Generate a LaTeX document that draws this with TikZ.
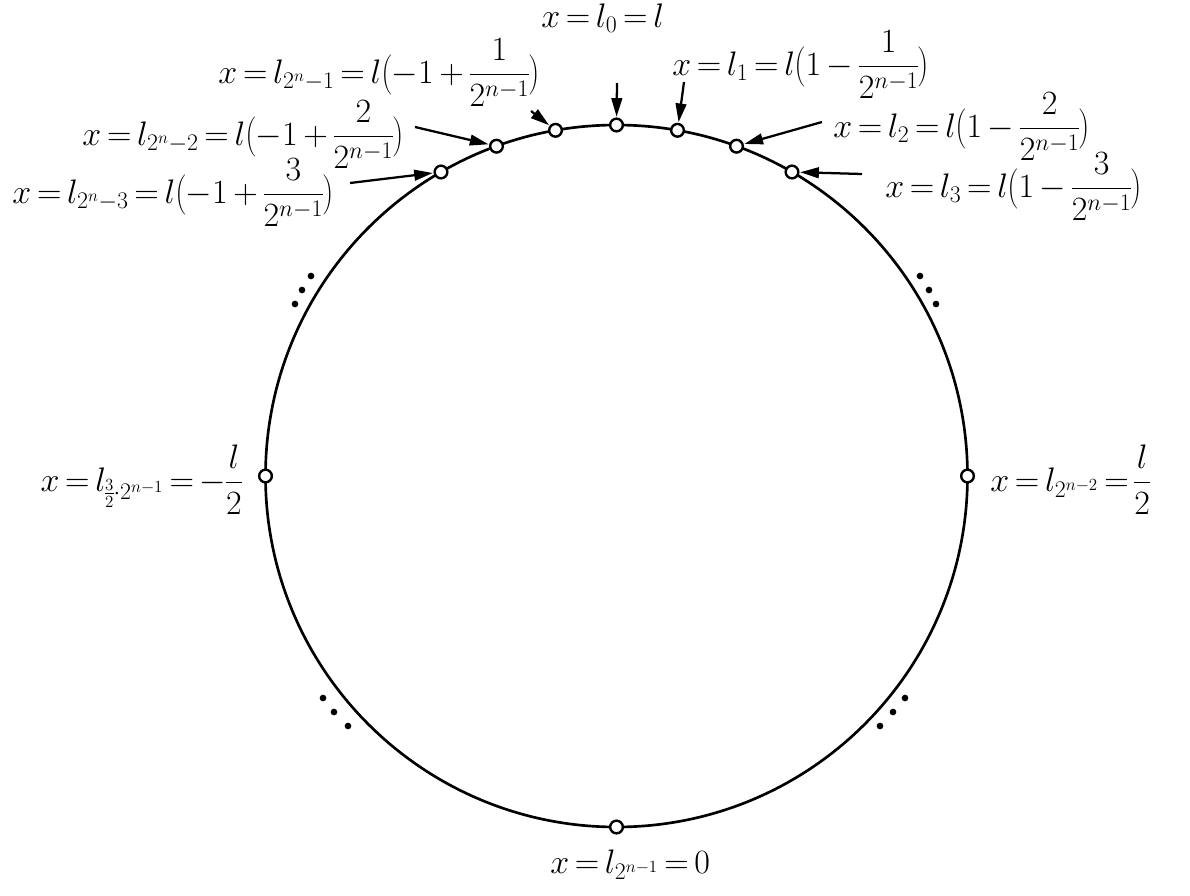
\RequirePackage{fix-cm}
\documentclass[tikz,border=0pt]{standalone}
\usetikzlibrary{arrows.meta}
\newcommand{\dfr}[2]{{\displaystyle\frac{#1}{#2}}}
\newcommand{\lpar}{\mathopen{\left(\vcenter{\hbox{\vrule height 30pt width 0pt}}\right.}}
\newcommand{\rpar}{\mathclose{\left.\vcenter{\hbox{\vrule height 30pt width 0pt}}\right)}}
\begin{document}
\begin{tikzpicture}[x=0.75pt,y=-0.75pt,
 ring/.style={line width=2pt},
 pt/.style={circle,draw,fill=white,line width=1.8pt,inner sep=0pt,minimum size=9.5pt},
 arr/.style={line width=1.7pt,-{Triangle[length=14pt,width=8pt]},shorten >=0.5pt},
 lab/.style={inner sep=0pt,font=\fontsize{25.5}{30}\selectfont},
 dotc/.style={circle,fill,inner sep=0pt,minimum size=5pt}]
\useasboundingbox (0,0) rectangle (1190,896);
\thickmuskip=3mu
\medmuskip=3mu
\nulldelimiterspace=0pt
\coordinate (O) at (616.5,476);
\draw[ring] (O) circle (263.25pt);
% points on the circle
\node[pt] (p0) at (616.5,125) {};
\node[pt] (p1) at (677.5,130.3) {};
\node[pt] (p2) at (736.5,146.2) {};
\node[pt] (p3) at (792,172) {};
\node[pt] (m1) at (555.5,130.3) {};
\node[pt] (m2) at (496.5,146.2) {};
\node[pt] (m3) at (441,172) {};
\node[pt] (pl) at (265.5,476) {};
\node[pt] (pr) at (967.5,476) {};
\node[pt] (pb) at (616.5,827) {};
% arrow tails
\coordinate (a0) at (617,83);
\coordinate (a1) at (684,82);
\coordinate (a2) at (822,122);
\coordinate (a3) at (862,174);
\coordinate (b1) at (531,111);
\coordinate (b2) at (415,127);
\coordinate (b3) at (350,183);
\draw[arr] (a0) -- (p0);
\draw[arr] (a1) -- (p1);
\draw[arr] (a2) -- (p2);
\draw[arr] (a3) -- (p3);
\draw[arr] (b1) -- (m1);
\draw[arr] (b2) -- (m2);
\draw[arr] (b3) -- (m3);
% labels
\node[lab,anchor=base west] (t0) at (541,27) {$x=l_0=l$};
\node[lab,anchor=base west] (t1) at (672,75) {$x=l_1=l\lpar1-\dfr{1}{2^{n-1}}\rpar$};
\node[lab,anchor=base west] (t2) at (833,137) {$x=l_2=l\lpar1-\dfr{2}{2^{n-1}}\rpar$};
\node[lab,anchor=base west] (t3) at (885,197) {$x=l_3=l\lpar1-\dfr{3}{2^{n-1}}\rpar$};
\node[lab,anchor=base east] (s1) at (540,83) {$x=l_{2^n-1}=l\lpar-1+\dfr{1}{2^{n-1}}\rpar$};
\node[lab,anchor=base east] (s2) at (404,145) {$x=l_{2^n-2}=l\lpar-1+\dfr{2}{2^{n-1}}\rpar$};
\node[lab,anchor=base east] (s3) at (334,203) {$x=l_{2^n-3}=l\lpar-1+\dfr{3}{2^{n-1}}\rpar$};
\node[lab,anchor=base east] (tl) at (242,491) {$x=l_{\frac{3}{2}\cdot 2^{n-1}}=-\dfr{l}{2}$};
\node[lab,anchor=base west] (tr) at (990,491) {$x=l_{2^{n-2}}=\dfr{l}{2}$};
\node[lab,anchor=base west] (tb) at (550,873) {$x=l_{2^{n-1}}=0$};
% dots
\foreach \p in {(311,276),(302,290),(295,304),(920,276),(929,290),(936,304),(323,698),(334,712),(348,726),(905,698),(893,712),(880,726)}
  \node[dotc] at \p {};
\end{tikzpicture}
\end{document}
